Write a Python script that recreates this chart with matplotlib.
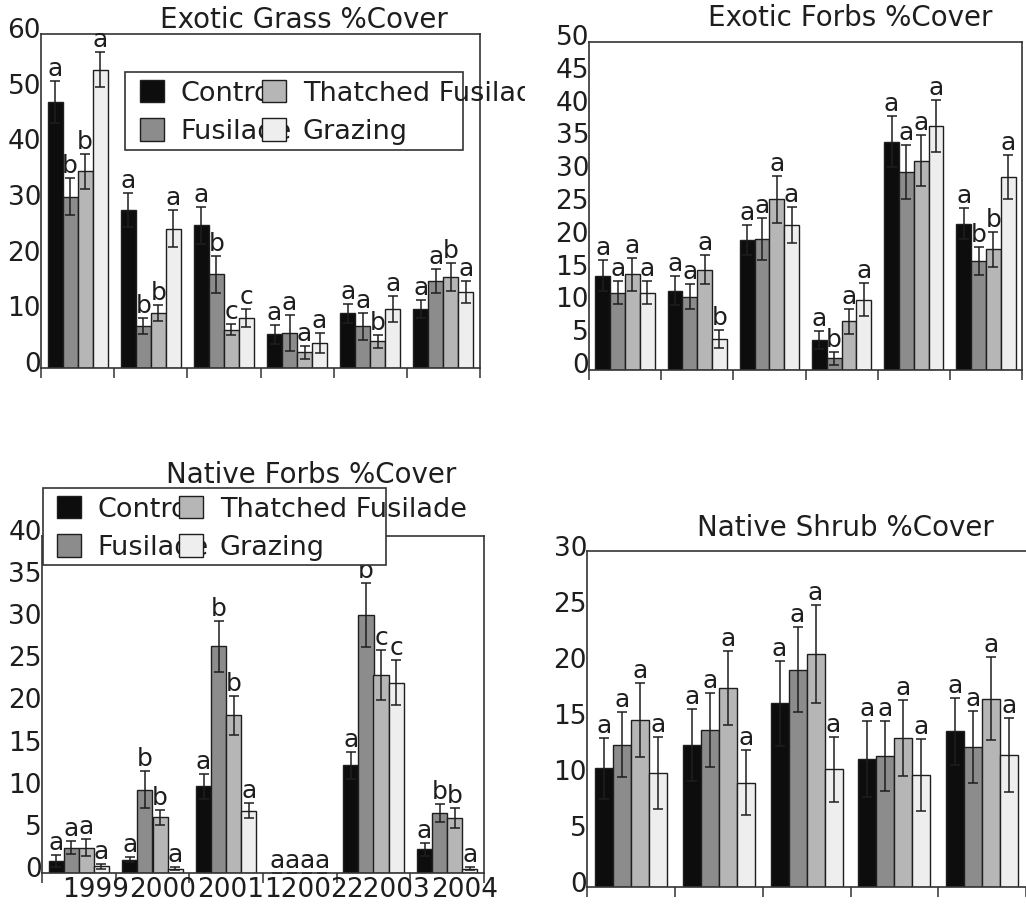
import numpy as np
import matplotlib
matplotlib.use('Agg')
import matplotlib.pyplot as plt
from matplotlib.patches import Rectangle
from matplotlib.transforms import ScaledTranslation, Bbox, TransformedBbox

treatments = ['Control', 'Fusilade', 'Thatched Fusilade', 'Grazing']
colors = ['#0d0d0d', '#8c8c8c', '#b6b6b6', '#eeeeee']
year_labels = ['1999', '2000', '2001', '12002', '22003', '2004']

# Exotic grass %cover (rows: Control, Fusilade, Thatched Fusilade, Grazing)
eg_mean = [[47.8, 28.4, 25.6, 6.1, 9.8, 10.6],
           [30.8, 7.5, 16.8, 6.3, 7.5, 15.6],
           [35.3, 9.9, 6.9, 2.8, 4.8, 16.3],
           [53.6, 25.0, 9.0, 4.5, 10.6, 13.6]]
eg_err = [[3.7, 3.1, 3.4, 1.7, 1.7, 1.6],
          [3.3, 1.4, 3.3, 3.3, 2.4, 2.2],
          [3.2, 1.5, 1.0, 1.1, 1.2, 2.5],
          [3.1, 3.3, 1.6, 1.8, 2.4, 2.0]]
eg_let = [['a', 'a', 'a', 'a', 'a', 'a'],
          ['b', 'b', 'b', 'a', 'a', 'a'],
          ['b', 'b', 'c', 'a', 'b', 'b'],
          ['a', 'a', 'c', 'a', 'a', 'a']]

# Exotic forbs %cover
ef_mean = [[14.4, 12.1, 19.8, 4.6, 34.8, 22.3],
           [11.8, 11.2, 19.9, 1.8, 30.2, 16.6],
           [14.6, 15.3, 26.0, 7.4, 31.9, 18.4],
           [11.8, 4.7, 22.1, 10.7, 37.2, 29.4]]
ef_err = [[2.3, 2.2, 2.3, 1.4, 3.9, 2.4],
          [1.7, 1.9, 3.2, 1.0, 4.1, 2.1],
          [2.5, 2.2, 3.6, 1.9, 3.9, 2.7],
          [1.8, 1.4, 2.7, 2.5, 4.0, 3.3]]
ef_let = [['a', 'a', 'a', 'a', 'a', 'a'],
          ['a', 'a', 'a', 'b', 'a', 'b'],
          ['a', 'a', 'a', 'a', 'a', 'b'],
          ['a', 'b', 'a', 'a', 'a', 'a']]

# Native forbs %cover
nf_mean = [[1.4, 1.6, 10.3, 0, 12.8, 2.8],
           [3.0, 9.9, 26.9, 0, 30.6, 7.1],
           [3.0, 6.6, 18.7, 0, 23.5, 6.5],
           [0.8, 0.5, 7.4, 0, 22.6, 0.5]]
nf_err = [[0.7, 0.3, 1.5, 0, 1.6, 0.8],
          [0.8, 2.2, 3.0, 0, 3.8, 1.1],
          [1.0, 0.9, 2.3, 0, 3.0, 1.2],
          [0.3, 0.2, 0.9, 0, 2.7, 0.2]]
nf_let = [['a', 'a', 'a', 'a', 'a', 'a'],
          ['a', 'b', 'b', 'a', 'b', 'b'],
          ['a', 'b', 'b', 'a', 'c', 'b'],
          ['a', 'a', 'a', 'a', 'c', 'a']]

# Native shrub %cover (only five groups show)
ns_mean = [[10.6, 12.7, 16.4, 11.4, 13.9],
           [12.7, 14.0, 19.4, 11.7, 12.5],
           [14.9, 17.8, 20.8, 13.3, 16.8],
           [10.2, 9.3, 10.5, 10.0, 11.8]]
ns_err = [[2.7, 3.2, 3.8, 3.4, 3.0],
          [2.9, 3.3, 3.8, 3.1, 3.2],
          [3.3, 3.3, 4.4, 3.4, 3.7],
          [3.2, 2.9, 2.9, 3.2, 3.3]]
ns_let = [['a'] * 5 for _ in range(4)]

W, H = 1026, 906
fig = plt.figure(figsize=(W / 100, H / 100), dpi=100)
bw = 0.205
ink = '#1e1e1e'


def px_axes(x0, y0, x1, y1):
    return fig.add_axes([x0 / W, 1 - y1 / H, (x1 - x0) / W, (y1 - y0) / H])


def panel(ax, means, errs, lets, ymax, ystep, title, tx, ty, shift):
    for i in range(4):
        x = np.arange(len(means[i])) + 0.5 + (i - 1.5) * bw
        ax.bar(x, means[i], bw, color=colors[i], edgecolor=ink, lw=1,
               label=treatments[i])
        ax.errorbar(x, means[i], yerr=errs[i], fmt='none', ecolor=ink,
                    elinewidth=1.1, capsize=3.5, capthick=1.1)
        for xx, m, e, l in zip(x, means[i], errs[i], lets[i]):
            ax.text(xx, m + e, l, ha='center', va='bottom', fontsize=18,
                    color=ink)
    ax.set_xlim(0, 6)
    ax.set_ylim(0, ymax)
    ax.set_xticks(np.arange(7))
    ax.set_xticklabels([])
    ax.tick_params(axis='x', direction='out', length=7, width=1.1,
                   color='#333')
    ax.set_yticks(np.arange(0, ymax + 1, ystep))
    ax.tick_params(axis='y', length=0, pad=0, labelsize=19, labelcolor=ink)
    off = ScaledTranslation(0, shift / 100, fig.dpi_scale_trans)
    for lab in ax.get_yticklabels():
        lab.set_transform(lab.get_transform() + off)
    for s in ax.spines.values():
        s.set_color('#333')
        s.set_linewidth(1.2)
    ax.text(tx, ty, title, transform=ax.transAxes, ha='center',
            va='baseline', fontsize=20, color=ink)


def legend_box(ax, hx, hy, box, clip_x=None):
    leg = ax.legend(ncol=2, loc='upper left',
                    bbox_to_anchor=(hx / W, 1 - hy / H),
                    bbox_transform=fig.transFigure, frameon=False,
                    fontsize=19.5, handlelength=0.9, handleheight=0.9,
                    handletextpad=0.6, columnspacing=-1.1,
                    labelspacing=0.43, borderpad=0, borderaxespad=0)
    leg.set_zorder(6)
    for t in leg.get_texts():
        t.set_color(ink)
        if clip_x is not None:
            t.set_clip_box(TransformedBbox(Bbox([[0, 0], [clip_x / W, 1]]),
                                           fig.transFigure))
            t.set_clip_on(True)
    x0, y0, x1, y1 = box
    ax.add_patch(Rectangle((x0 / W, 1 - y1 / H), (x1 - x0) / W,
                           (y1 - y0) / H, transform=fig.transFigure,
                           facecolor='white', edgecolor='#333', lw=1.2,
                           zorder=5, clip_on=False))


ax1 = px_axes(41, 34, 480, 368)
panel(ax1, eg_mean, eg_err, eg_let, 60, 10, 'Exotic Grass %Cover',
      0.60, 1.018, 6)
legend_box(ax1, 140, 80, (125, 72, 463, 150), clip_x=525)

ax2 = px_axes(589, 42, 1022, 370)
panel(ax2, ef_mean, ef_err, ef_let, 50, 5, 'Exotic Forbs %Cover',
      0.603, 1.049, 7)

ax3 = px_axes(42, 536, 484, 873)
panel(ax3, nf_mean, nf_err, nf_let, 40, 5, 'Native Forbs %Cover',
      0.61, 1.157, 6)
legend_box(ax3, 57, 496, (43, 488, 386, 565))
ax3.set_xticks(np.arange(6) + 0.5, minor=True)
ax3.set_xticklabels(year_labels, minor=True, fontsize=19, color=ink)
ax3.tick_params(axis='x', which='minor', length=0, pad=3)
# the year labels run together in the original; nudge each one sideways
for lab, dx in zip(ax3.get_xticklabels(minor=True), [17, 10, 4, 6, 15, 17]):
    lab.set_transform(lab.get_transform() +
                      ScaledTranslation(dx / 100, 0, fig.dpi_scale_trans))

ax4 = px_axes(587, 551, 1114, 887)
panel(ax4, ns_mean, ns_err, ns_let, 30, 5, 'Native Shrub %Cover',
      0.49, 1.045, 5)

fig.savefig('out.png', dpi=100)
